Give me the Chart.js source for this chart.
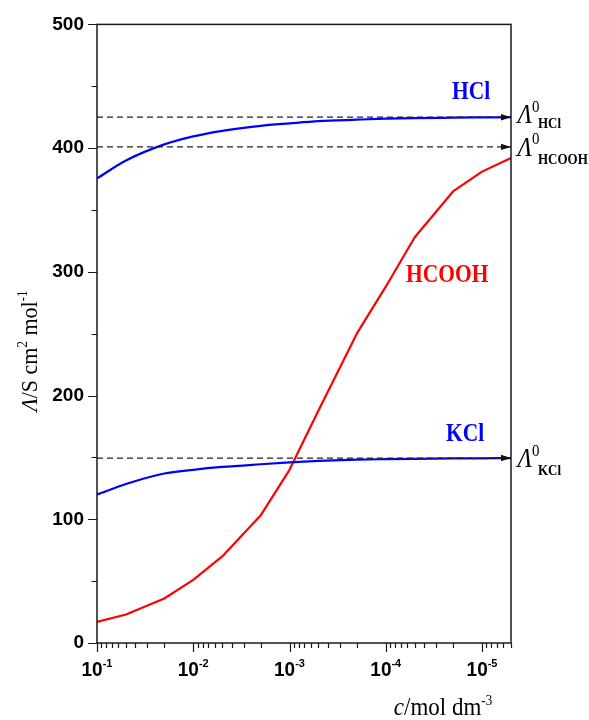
<!DOCTYPE html>
<html>
<head>
<meta charset="utf-8">
<script src="https://cdn.jsdelivr.net/npm/chart.js@4.4.0/dist/chart.umd.min.js"></script>
<style>
  html, body { margin: 0; padding: 0; background: #fff; }
  #chart { display: block; }
</style>
</head>
<body>
<canvas id="chart" width="589" height="720"></canvas>
<script>
// concentration c / mol dm-3 (x axis runs from 0.1 down to 5e-6)
const conc = [1e-1, 5e-2, 2e-2, 1e-2, 5e-3, 2e-3, 1e-3, 5e-4, 2e-4, 1e-4, 5e-5, 2e-5, 1e-5, 5e-6];
// molar conductivity / S cm2 mol-1
const hclValues = [375.5, 390, 403, 409.5, 414, 418, 420, 421.8, 423, 423.8, 424.3, 424.6, 424.8, 425];
const kclValues = [120, 128.5, 137, 140, 142.3, 144.5, 146, 147.2, 148.2, 148.6, 148.9, 149.2, 149.3, 149.4];
const hcoohValues = [17, 23, 36, 51, 70, 103, 140, 188, 250, 288, 328, 365, 381, 392];

// limiting conductivities (dashed lines)
const limitNames = ['HCl', 'HCOOH', 'KCl'];
const limitValues = [425, 401, 149.5];

const xTickExponents = [-1, -2, -3, -4, -5];
const yTicks = [0, 100, 200, 300, 400, 500];

const SANS = '"Liberation Sans", Arial, sans-serif';
const SERIF = '"Liberation Serif", "Times New Roman", serif';

const xMin = 5e-6, xMax = 0.1;

// tick marks at 1..9 x 10^k inside the axis range
const xTickValues = [];
for (let e = -6; e <= -1; e++) {
  for (let m = 1; m <= 9; m++) {
    const v = m * Math.pow(10, e);
    if (v >= xMin * 0.999 && v <= xMax * 1.001) xTickValues.push(v);
  }
}

function toPoints(vals) {
  return vals.map((v, i) => ({ x: conc[i], y: v }));
}

// draws a run of text pieces [text, font, dy] starting at baseline (x, y)
function drawParts(ctx, parts, x, y, align, sy) {
  let w = 0;
  parts.forEach(p => { ctx.font = p[1]; w += ctx.measureText(p[0]).width; });
  let cx = align === 'center' ? -w / 2 : (align === 'right' ? -w : 0);
  ctx.save();
  ctx.translate(x, y);
  ctx.scale(1, sy || 1);
  ctx.textAlign = 'left';
  ctx.textBaseline = 'alphabetic';
  parts.forEach(p => {
    ctx.font = p[1];
    ctx.fillText(p[0], cx, (p[2] || 0) / (sy || 1));
    cx += ctx.measureText(p[0]).width;
  });
  ctx.restore();
}

const seriesLabels = [
  { text: 'HCl', c: 1.3e-5, v: 440, color: '#0000ff' },
  { text: 'HCOOH', c: 2.3e-5, v: 292, color: '#ff0000' },
  { text: 'KCl', c: 1.5e-5, v: 163.5, color: '#0000ff' }
];
const limitLabelOffsets = [[6, 11], [9, 17], [9, 17]];

const decor = {
  id: 'decor',
  afterDatasetsDraw(chart) {
    const { ctx, chartArea: a, scales: { y } } = chart;
    // arrow heads at the end of the dashed lines
    ctx.save();
    ctx.fillStyle = '#111';
    limitValues.forEach(v => {
      const py = y.getPixelForValue(v);
      ctx.beginPath();
      ctx.moveTo(a.right, py);
      ctx.lineTo(a.right - 10, py - 3.2);
      ctx.lineTo(a.right - 10, py + 3.2);
      ctx.closePath();
      ctx.fill();
    });
    ctx.restore();
  },
  afterDraw(chart) {
    const { ctx, chartArea: a, scales: { x, y } } = chart;
    ctx.save();
    ctx.strokeStyle = '#1a1a1a';
    ctx.lineWidth = 1.5;
    ctx.strokeRect(a.left, a.top, a.right - a.left, a.bottom - a.top);

    // y tick marks
    ctx.lineWidth = 1.2;
    ctx.beginPath();
    for (let v = 0; v <= 500; v += 50) {
      const py = Math.round(y.getPixelForValue(v)) + 0.5;
      const len = v % 100 === 0 ? 9 : 5.5;
      ctx.moveTo(a.left, py);
      ctx.lineTo(a.left - len, py);
    }
    // x tick marks
    xTickValues.forEach(v => {
      const px = Math.round(x.getPixelForValue(v)) + 0.5;
      const major = Math.abs(Math.log10(v) - Math.round(Math.log10(v))) < 1e-6;
      ctx.moveTo(px, a.bottom);
      ctx.lineTo(px, a.bottom + (major ? 9 : 5));
    });
    ctx.stroke();

    ctx.fillStyle = '#000';
    // x tick labels 10^n
    xTickExponents.forEach(e => {
      const px = x.getPixelForValue(Math.pow(10, e));
      drawParts(ctx, [['10', 'bold 19px ' + SANS], [String(e), 'bold 11px ' + SANS, -9]],
        px, a.bottom + 33, 'center', 1.05);
    });

    // axis titles
    drawParts(ctx, [['c', 'italic 23px ' + SERIF], ['/mol dm', '23px ' + SERIF], ['-3', '13px ' + SERIF, -10]],
      443, 715, 'center', 1.05);
    ctx.save();
    ctx.translate(37, 351);
    ctx.rotate(-Math.PI / 2);
    drawParts(ctx, [['Λ', 'italic 22px ' + SERIF], ['/S cm', '22px ' + SERIF], ['2', '13px ' + SERIF, -10],
      [' mol', '22px ' + SERIF], ['-1', '13px ' + SERIF, -10]], 0, 0, 'center', 1.08);
    ctx.restore();

    // series names
    seriesLabels.forEach(s => {
      ctx.fillStyle = s.color;
      drawParts(ctx, [[s.text, 'bold 21.5px ' + SERIF]], x.getPixelForValue(s.c), y.getPixelForValue(s.v), 'center', 1.18);
    });

    // limiting conductivity labels
    ctx.fillStyle = '#000';
    limitValues.forEach((v, i) => {
      const py = y.getPixelForValue(v);
      const lx = a.right + 6.5;
      const base = py + limitLabelOffsets[i][0];
      ctx.font = 'italic 24px ' + SERIF;
      const lw = ctx.measureText('Λ').width;
      drawParts(ctx, [['Λ', 'italic 24px ' + SERIF]], lx, base, 'left', 1.1);
      drawParts(ctx, [['0', '15px ' + SERIF]], lx + lw, base - 11.5, 'left', 1.1);
      drawParts(ctx, [[limitNames[i], 'bold 13px ' + SERIF]], lx + lw + 6, py + limitLabelOffsets[i][1], 'left', 1.1);
    });
    ctx.restore();
  }
};

const limitDatasets = limitValues.map(v => ({
  data: [{ x: xMax, y: v }, { x: xMin, y: v }],
  borderColor: '#222',
  borderWidth: 1.3,
  borderDash: [6, 4],
  pointRadius: 0
}));

new Chart(document.getElementById('chart'), {
  type: 'line',
  data: {
    datasets: [
      ...limitDatasets,
      { label: 'HCl', data: toPoints(hclValues), borderColor: '#0000ff', borderWidth: 2.2, pointRadius: 0, cubicInterpolationMode: 'monotone' },
      { label: 'KCl', data: toPoints(kclValues), borderColor: '#0000ff', borderWidth: 2.2, pointRadius: 0, cubicInterpolationMode: 'monotone' },
      { label: 'HCOOH', data: toPoints(hcoohValues), borderColor: '#ff0000', borderWidth: 2.2, pointRadius: 0, tension: 0 }
    ]
  },
  options: {
    responsive: false,
    devicePixelRatio: 1,
    animation: false,
    layout: { padding: { top: 21, right: 78, left: 0, bottom: 0 } },
    plugins: { legend: { display: false }, tooltip: { enabled: false } },
    elements: { line: { borderJoinStyle: 'round', borderCapStyle: 'butt' } },
    scales: {
      x: {
        type: 'logarithmic',
        reverse: true,
        min: xMin,
        max: xMax,
        grid: { display: false, drawTicks: false },
        border: { display: false },
        ticks: { display: false },
        afterBuildTicks: s => { s.ticks = xTickValues.map(v => ({ value: v })); },
        afterFit: s => { s.height = 77; }
      },
      y: {
        min: 0,
        max: 500,
        grid: { display: false, drawTicks: false },
        border: { display: false },
        ticks: {
          stepSize: 50,
          autoSkip: false,
          padding: 13,
          color: '#000',
          font: { family: SANS, size: 19, weight: 'bold' },
          callback: v => (yTicks.includes(v) ? String(v) : '')
        },
        afterFit: s => { s.width = 97; }
      }
    }
  },
  plugins: [decor]
});
</script>
</body>
</html>
